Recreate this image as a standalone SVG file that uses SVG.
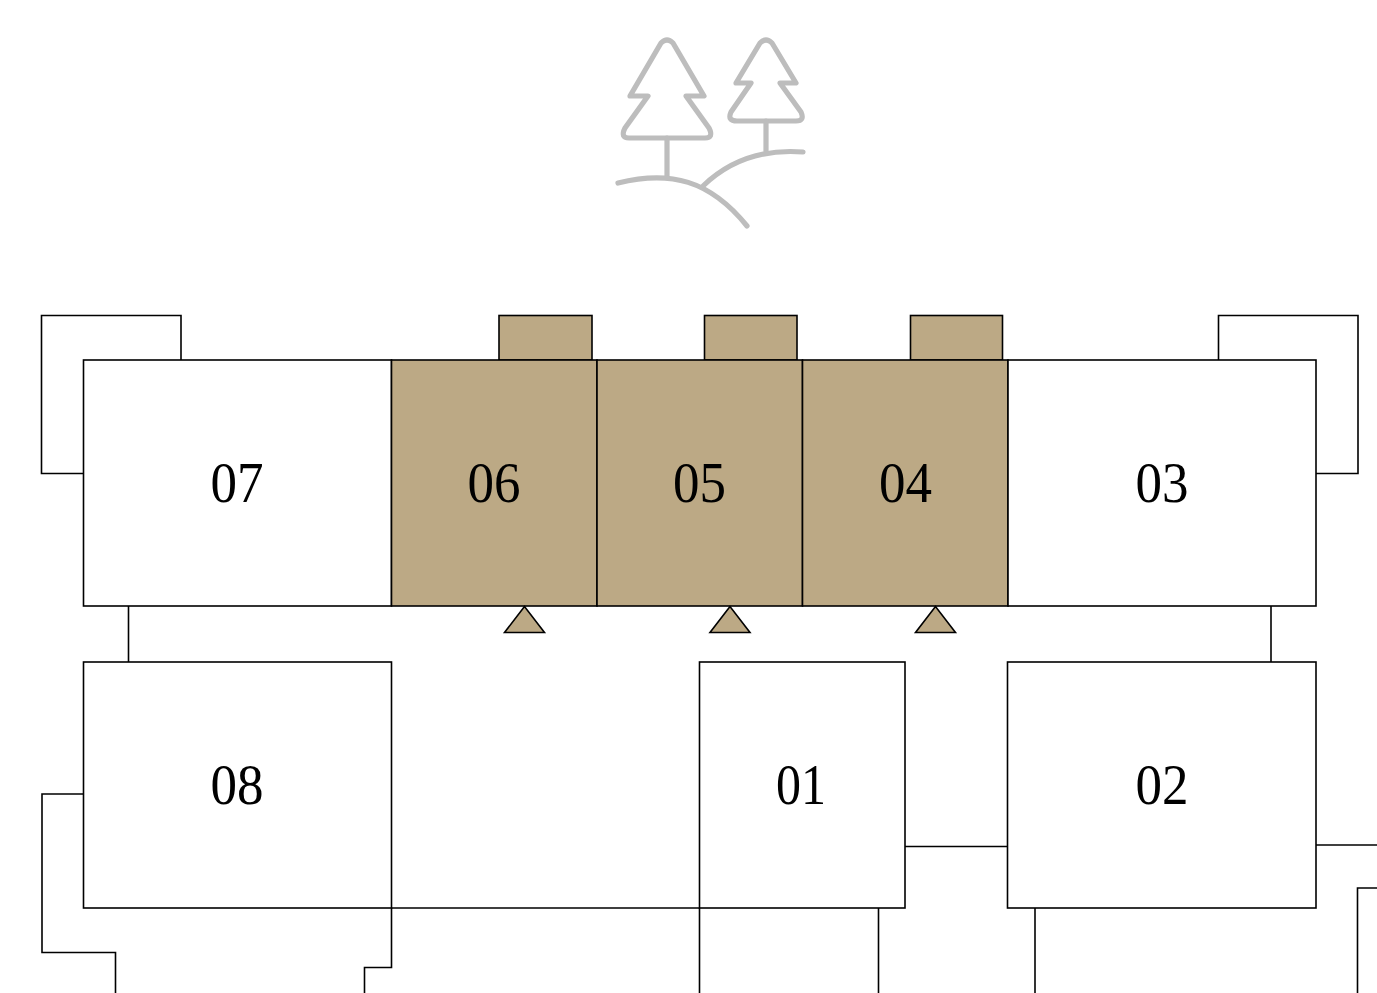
<svg xmlns="http://www.w3.org/2000/svg" width="1377" height="993" viewBox="0 0 1377 993">
<style>
.r{fill:#fff;stroke:#000;stroke-width:1.6}
.t{fill:#bca985;stroke:#000;stroke-width:1.6}
.c{fill:none;stroke:#000;stroke-width:1.6}
.i{fill:none;stroke:#bdbdbd;stroke-width:5.2;stroke-linecap:round;stroke-linejoin:round}
text{font-family:"Liberation Serif","Times New Roman",serif;font-size:57px;fill:#000;text-anchor:middle}
</style>
<rect width="1377" height="993" fill="#fff"/>
<g id="trees">
<path class="i" d="M661 43Q667 37 673 43L704 96H686L709 128Q714 138 705 138H629Q620 138 625 128L648 96H630Z"/>
<path class="i" d="M760 43Q766 37 772 43L796 83H780L801 112Q805 121 796 121H737Q727 121 731 112L751 83H736Z"/>
<path class="i" d="M667 138V176M766 121V153"/>
<path class="i" d="M618 183C670 170 710 180 747 226"/>
<path class="i" d="M703 186C730 160 765 149 803 152"/>
</g>
<g id="connectors">
<path class="c" d="M181 360V315.500H41.500V473.500H83"/>
<path class="c" d="M1218.500 360V315.500H1358V473.500H1316"/>
<path class="c" d="M128.500 606V662"/>
<path class="c" d="M1271 606V662"/>
<path class="c" d="M83 794H42V952.500H115.500V993"/>
<path class="c" d="M391.500 908V967.500H364.500V993"/>
<path class="c" d="M391.500 908H699.500V993"/>
<path class="c" d="M878.500 908V993"/>
<path class="c" d="M905 846.500H1008"/>
<path class="c" d="M1035 908V993"/>
<path class="c" d="M1316 845H1377"/>
<path class="c" d="M1377 888H1357.500V993"/>
</g>
<g id="bay-06-top"><rect class="t" x="499" y="315.500" width="93" height="44.500"/></g>
<g id="bay-05-top"><rect class="t" x="704.500" y="315.500" width="92.500" height="44.500"/></g>
<g id="bay-04-top"><rect class="t" x="910.500" y="315.500" width="92" height="44.500"/></g>
<g id="node-07"><rect class="r" x="83.500" y="360" width="308" height="246"/><text x="237" y="502" textLength="53" lengthAdjust="spacingAndGlyphs">07</text></g>
<g id="node-06"><rect class="t" x="391.500" y="360" width="205.500" height="246"/><text x="494" y="502" textLength="53" lengthAdjust="spacingAndGlyphs">06</text></g>
<g id="node-05"><rect class="t" x="597" y="360" width="205.500" height="246"/><text x="699.500" y="502" textLength="53" lengthAdjust="spacingAndGlyphs">05</text></g>
<g id="node-04"><rect class="t" x="802.500" y="360" width="205.500" height="246"/><text x="905.500" y="502" textLength="53" lengthAdjust="spacingAndGlyphs">04</text></g>
<g id="node-03"><rect class="r" x="1008" y="360" width="308" height="246"/><text x="1162" y="502" textLength="53" lengthAdjust="spacingAndGlyphs">03</text></g>
<g id="node-08"><rect class="r" x="83.500" y="662" width="308" height="246"/><text x="237" y="804" textLength="53" lengthAdjust="spacingAndGlyphs">08</text></g>
<g id="node-01"><rect class="r" x="699.500" y="662" width="205.500" height="246"/><text x="801" y="804" textLength="50" lengthAdjust="spacingAndGlyphs">01</text></g>
<g id="node-02"><rect class="r" x="1007.500" y="662" width="308.500" height="246"/><text x="1162" y="804" textLength="53" lengthAdjust="spacingAndGlyphs">02</text></g>
<g id="entry-06"><path class="t" d="M524.500 606.500L504.500 632.500H544.500Z"/></g>
<g id="entry-05"><path class="t" d="M730 606.500L710 632.500H750Z"/></g>
<g id="entry-04"><path class="t" d="M935.500 606.500L915.500 632.500H955.500Z"/></g>
</svg>
